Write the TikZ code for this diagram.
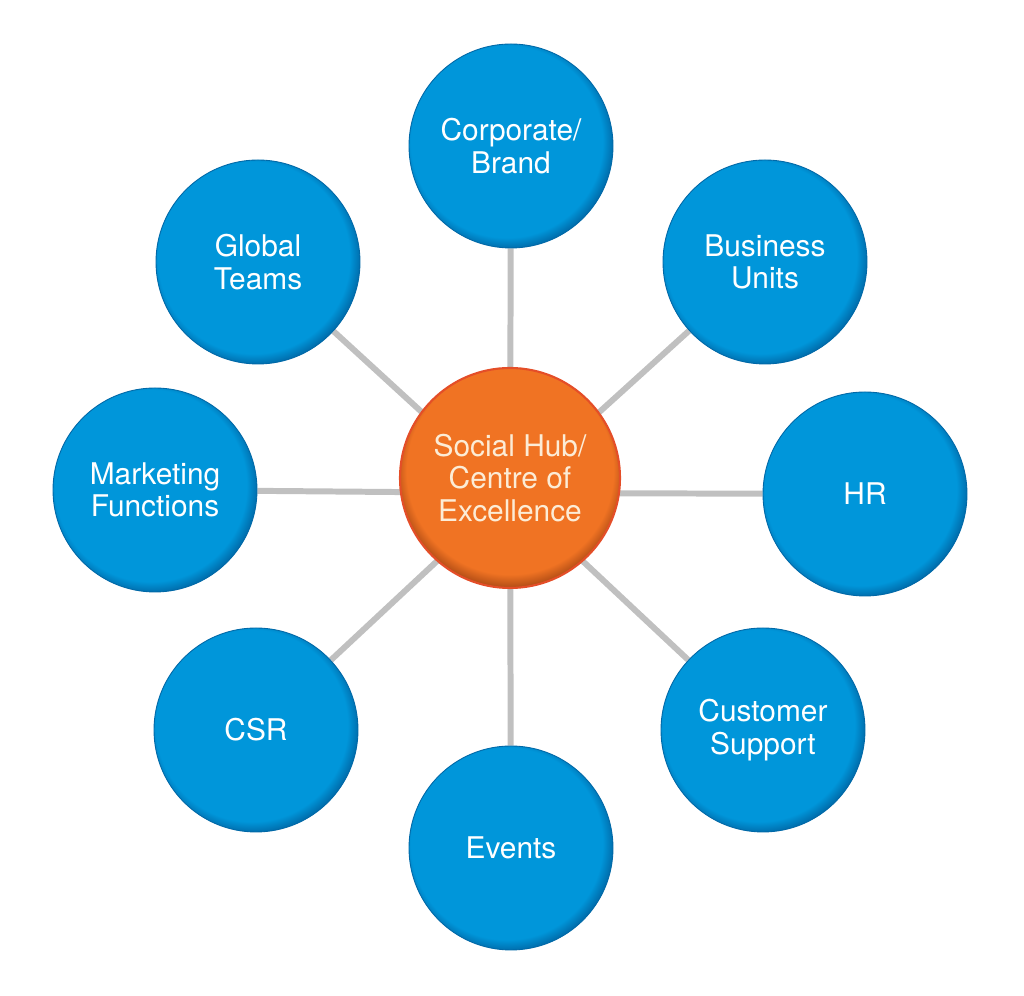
\documentclass[tikz,border=0pt]{standalone}
\usepackage{fontspec}
\setmainfont{TeX Gyre Heros}
\usetikzlibrary{backgrounds}
\definecolor{hubblue}{RGB}{0,150,218}
\definecolor{hubrim}{RGB}{0,85,145}
\definecolor{huborange}{RGB}{240,115,35}
\definecolor{orangerim}{RGB}{150,60,15}
\definecolor{orangeedge}{RGB}{228,78,40}
\definecolor{spokegray}{RGB}{192,192,192}
\definecolor{creamtext}{RGB}{252,236,214}
\pgfdeclareradialshading{blueball}{\pgfpoint{-2bp}{2bp}}{%
  color(0bp)=(hubblue); color(23.5bp)=(hubblue); color(27.6bp)=(hubrim);
  color(28bp)=(hubrim); color(50bp)=(hubrim)}
\pgfdeclareradialshading{orangeball}{\pgfpoint{0bp}{3bp}}{%
  color(0bp)=(huborange); color(23.5bp)=(huborange); color(27.6bp)=(orangerim);
  color(28bp)=(orangerim); color(50bp)=(orangerim)}
\tikzset{
  bubble/.style={circle, minimum size=4.08cm, inner sep=0pt, align=center,
    shading=blueball, draw=hubrim!70!hubblue, line width=0.5pt, text=white,
    font=\fontsize{17}{18.6}\selectfont},
  hubnode/.style={bubble, minimum size=4.40cm, shading=orangeball,
    draw=orangeedge, line width=1.2pt, text=creamtext},
  spoke/.style={draw=spokegray, line width=3.4pt}
}
\begin{document}
\begin{tikzpicture}
  \useasboundingbox (0,0) rectangle (20.48,19.92);
  % centre
  \node[hubnode] (hub) at (10.20,10.36) {Social Hub/\\Centre of\\Excellence};
  \coordinate (star) at (10.20,10.06);
  % ring of units
  \node[bubble] (corp)   at (10.22,17.00) {Corporate/\\Brand};
  \node[bubble] (units)  at (15.30,14.68) {Business\\Units};
  \node[bubble] (hr)     at (17.30,10.04) {HR};
  \node[bubble] (support) at (15.26,5.32) {Customer\\Support};
  \node[bubble] (events) at (10.22,2.96)  {Events};
  \node[bubble] (csr)    at (5.12,5.32)   {CSR};
  \node[bubble] (mkt)    at (3.10,10.12)  {Marketing\\Functions};
  \node[bubble] (global) at (5.16,14.68)  {Global\\Teams};
  % spokes
  \begin{scope}[on background layer]
    \foreach \n in {corp,units,hr,support,events,csr,mkt,global}{
      \draw[spoke] (star) -- (\n);
    }
  \end{scope}
\end{tikzpicture}
\end{document}
